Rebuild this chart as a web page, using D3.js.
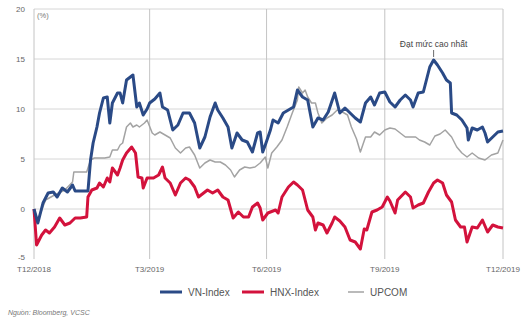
<!DOCTYPE html>
<html>
<head>
<meta charset="utf-8">
<script src="https://cdn.jsdelivr.net/npm/d3@7"></script>
<style>
  html, body { margin: 0; padding: 0; background: #fff; }
  svg { display: block; font-family: "Liberation Sans", Arial, sans-serif; }
</style>
</head>
<body>
<svg id="chart" width="523" height="328"></svg>
<script>
// days counted from 31/12/2018, values in %
const vnIndex = [
  [0, 0], [3, -1.4], [7, 0.6], [11, 1.6], [15, 1.7], [18, 1.2], [22, 2.1], [26, 1.7], [30, 2.4], [32, 1.8],
  [42, 1.8], [44, 4.9], [46, 6.6], [49, 8.2], [51, 9.6], [54, 11.1], [57, 11.2], [59, 8.6], [61, 10.6], [65, 11.6],
  [67, 11.6], [69, 10.6], [72, 12.9], [75, 13.2], [77, 13.4], [80, 10.2], [82, 10.6], [85, 9.4], [88, 10.0], [90, 10.6],
  [94, 11.0], [98, 11.6], [100, 10.2], [104, 9.9], [108, 7.9], [112, 8.4], [116, 9.6], [121, 9.6], [125, 8.6], [129, 6.1],
  [133, 7.2], [137, 9.2], [141, 10.6], [143, 9.9], [147, 9.1], [151, 8.2], [154, 6.1], [158, 7.6], [162, 6.9], [166, 6.7],
  [170, 5.7], [174, 7.6], [176, 7.7], [178, 5.7], [180, 6.4], [184, 7.9], [186, 8.9], [190, 8.6], [194, 9.6], [198, 9.9],
  [202, 10.2], [205, 11.9], [209, 11.2], [213, 10.9], [217, 8.2], [221, 9.1], [225, 8.9], [229, 9.7], [234, 11.6], [238, 9.6],
  [242, 10.1], [246, 9.6], [250, 9.1], [254, 8.7], [258, 10.6], [262, 11.2], [265, 10.4], [269, 11.6], [273, 11.7], [277, 10.7],
  [281, 10.2], [285, 10.9], [289, 11.4], [293, 10.9], [295, 10.2], [299, 11.6], [303, 11.7], [306, 13.2], [308, 14.2], [311, 14.9],
  [314, 14.4], [318, 13.6], [321, 12.9], [324, 12.6], [325, 9.6], [329, 9.4], [333, 8.9], [337, 8.1], [338, 6.9], [341, 8.1],
  [345, 7.9], [349, 8.2], [351, 7.6], [353, 6.7], [357, 7.2], [361, 7.7], [365, 7.8]
]

const hnxIndex = [
  [0, 0], [2, -3.6], [6, -2.6], [9, -2.1], [12, -2.4], [16, -1.8], [20, -0.9], [24, -1.6], [28, -1.4], [32, -0.9],
  [36, -0.9], [41, -0.8], [42, 1.2], [45, 1.9], [49, 2.1], [51, 2.6], [54, 2.2], [57, 3.1], [59, 2.7], [61, 4.1],
  [65, 3.4], [67, 4.1], [69, 4.9], [72, 5.6], [76, 6.2], [79, 5.6], [81, 3.2], [84, 3.1], [85, 2.1], [88, 3.1],
  [93, 3.1], [97, 3.4], [100, 4.2], [102, 3.1], [106, 2.6], [110, 1.4], [114, 2.6], [118, 3.1], [121, 2.9], [125, 2.2],
  [128, 1.2], [132, 1.6], [135, 1.9], [139, 1.6], [143, 1.9], [147, 1.2], [151, 0.9], [155, -0.9], [159, -0.3], [163, -0.8],
  [167, -0.8], [170, 0.2], [174, 0.6], [176, 0.1], [178, -1.1], [182, -0.4], [184, -0.3], [188, -0.1], [190, -0.4], [193, 1.2],
  [195, 1.6], [198, 2.2], [202, 2.7], [205, 2.4], [209, 1.9], [213, -0.1], [217, -0.8], [219, -2.1], [221, -1.4], [225, -1.6],
  [228, -2.4], [232, -1.4], [234, -0.8], [238, -1.2], [242, -1.8], [246, -3.1], [250, -3.3], [254, -4.0], [257, -2.0], [259, -2.1],
  [263, -0.3], [267, -0.1], [271, 0.2], [275, 1.2], [277, 0.8], [281, -0.4], [283, 0.9], [289, 1.7], [293, 1.2], [295, 0.1],
  [299, 0.4], [303, 0.6], [307, 1.7], [311, 2.6], [314, 2.9], [318, 2.6], [321, 1.4], [325, 0.7], [328, -1.1], [332, -1.8],
  [335, -1.8], [337, -3.3], [341, -1.8], [345, -1.9], [349, -1.1], [353, -2.3], [357, -1.6], [361, -1.8], [365, -1.9]
]

const upcom = [
  [0, 0], [3, -1.1], [9, 0.9], [16, 1.4], [24, 1.9], [30, 2.7], [31, 3.7], [41, 3.7], [44, 4.9], [47, 5.1],
  [55, 5.1], [59, 5.2], [61, 5.9], [65, 5.9], [67, 6.4], [69, 6.6], [72, 8.2], [75, 8.6], [77, 8.2], [80, 8.4],
  [82, 8.2], [86, 8.6], [88, 8.9], [92, 7.6], [94, 7.4], [98, 7.7], [102, 7.4], [106, 7.1], [110, 6.1], [114, 5.6],
  [118, 6.1], [121, 6.2], [125, 5.4], [129, 4.1], [133, 4.6], [137, 4.9], [141, 4.7], [145, 4.7], [149, 4.4], [153, 3.9],
  [156, 3.2], [160, 3.9], [164, 4.2], [168, 4.1], [172, 4.2], [176, 4.6], [180, 5.2], [182, 4.1], [185, 5.6], [189, 6.2],
  [193, 6.9], [197, 8.2], [201, 9.6], [205, 10.9], [206, 12.2], [209, 11.6], [211, 11.9], [213, 11.2], [216, 10.6], [219, 10.6],
  [221, 9.6], [224, 8.6], [228, 9.1], [232, 9.4], [236, 9.9], [240, 9.7], [244, 9.4], [247, 8.2], [251, 7.0], [254, 5.7],
  [258, 7.2], [262, 7.2], [265, 7.7], [269, 7.4], [273, 7.9], [277, 8.1], [281, 8.0], [285, 7.6], [289, 7.2], [293, 7.2],
  [297, 7.2], [300, 6.9], [304, 6.7], [308, 6.4], [312, 7.3], [316, 7.5], [320, 7.9], [325, 7.2], [329, 6.2], [333, 5.6],
  [337, 5.2], [341, 5.6], [346, 5.1], [351, 4.9], [356, 5.4], [361, 5.6], [365, 6.9]
]

const yTicks = [-5, 0, 5, 10, 15, 20]
const xTickDates = ['2018-12-31', '2019-03-31', '2019-06-30', '2019-09-30', '2019-12-31']
const xTickLabels = ['T12/2018', 'T3/2019', 'T6/2019', 'T9/2019', 'T12/2019']
const seriesNames = ['VN-Index', 'HNX-Index', 'UPCOM']
const seriesColors = ['#2a4a86', '#d3123c', '#a3a3a3']
const seriesWidths = [3, 3, 1.5]
const peakLabel = 'Đạt mức cao nhất'
const sourceText = 'Nguồn: Bloomberg, VCSC'

const parseDate = d3.timeParse('%Y-%m-%d')
const startDate = parseDate('2018-12-31')

const margin = {top: 9, right: 20, bottom: 69, left: 34}
const width = 523 - margin.left - margin.right
const height = 328 - margin.top - margin.bottom

const svg = d3.select('#chart')
const g = svg.append('g').attr('transform', `translate(${margin.left},${margin.top})`)

const x = d3.scaleTime()
    .domain([startDate, parseDate('2019-12-31')])
    .range([0, width])
const y = d3.scaleLinear()
    .domain([-5, 20])
    .range([height, 0])

// horizontal grid
g.append('g')
    .selectAll('line')
    .data(yTicks.filter(t => t > -5))
    .enter()
    .append('line')
    .attr('x1', 0).attr('x2', width)
    .attr('y1', d => y(d)).attr('y2', d => y(d))
    .attr('stroke', '#d6d6d6').attr('stroke-width', 1)

// vertical grid at quarter ends
g.append('g')
    .selectAll('line')
    .data(xTickDates.map(parseDate))
    .enter()
    .append('line')
    .attr('x1', d => x(d)).attr('x2', d => x(d))
    .attr('y1', 0).attr('y2', height)
    .attr('stroke', '#c4c4c4').attr('stroke-width', 1)

// y labels
g.append('g')
    .selectAll('text')
    .data(yTicks)
    .enter()
    .append('text')
    .attr('x', -9)
    .attr('y', d => y(d) - (d === -5 ? 2 : 0))
    .attr('dy', '0.32em')
    .attr('text-anchor', 'end')
    .attr('font-size', 8)
    .attr('fill', '#666')
    .text(d => d)

// x labels
g.append('g')
    .selectAll('text')
    .data(xTickDates)
    .enter()
    .append('text')
    .attr('x', d => x(parseDate(d)))
    .attr('y', height + 13)
    .attr('text-anchor', 'middle')
    .attr('font-size', 8)
    .attr('fill', '#666')
    .text((d, i) => xTickLabels[i])

g.append('text')
    .attr('x', 3).attr('y', 9)
    .attr('font-size', 7.5)
    .attr('fill', '#777')
    .text('(%)')

const line = d3.line()
    .x(d => x(d3.timeDay.offset(startDate, d[0])))
    .y(d => y(d[1]))

const allSeries = [upcom, hnxIndex, vnIndex]
const order = [2, 1, 0]
allSeries.forEach((data, k) => {
    const i = order[k]
    g.append('path')
        .datum(data)
        .attr('fill', 'none')
        .attr('stroke', seriesColors[i])
        .attr('stroke-width', seriesWidths[i])
        .attr('stroke-linejoin', 'round')
        .attr('d', line)
})

// peak annotation
const peak = vnIndex.reduce((a, b) => b[1] > a[1] ? b : a)
const px = x(d3.timeDay.offset(startDate, peak[0]))
const py = y(peak[1])
g.append('line')
    .attr('x1', px).attr('x2', px)
    .attr('y1', py - 3).attr('y2', py - 10)
    .attr('stroke', '#444').attr('stroke-width', 0.8)
g.append('text')
    .attr('x', px).attr('y', py - 13)
    .attr('text-anchor', 'middle')
    .attr('font-size', 8.5)
    .attr('fill', '#444')
    .text(peakLabel)

// legend
const legendX = [160, 242, 348]
const legendLen = [22, 22, 16]
const legend = svg.append('g').attr('transform', 'translate(0,292)')
seriesNames.forEach((name, i) => {
    legend.append('line')
        .attr('x1', legendX[i]).attr('x2', legendX[i] + legendLen[i])
        .attr('y1', 0).attr('y2', 0)
        .attr('stroke', seriesColors[i])
        .attr('stroke-width', seriesWidths[i])
    legend.append('text')
        .attr('x', legendX[i] + legendLen[i] + 6)
        .attr('y', 0)
        .attr('dy', '0.35em')
        .attr('font-size', 10)
        .attr('fill', '#555')
        .text(name)
})

svg.append('text')
    .attr('x', 8).attr('y', 315)
    .attr('font-size', 7)
    .attr('font-style', 'italic')
    .attr('fill', '#777')
    .text(sourceText)
</script>
</body>
</html>
